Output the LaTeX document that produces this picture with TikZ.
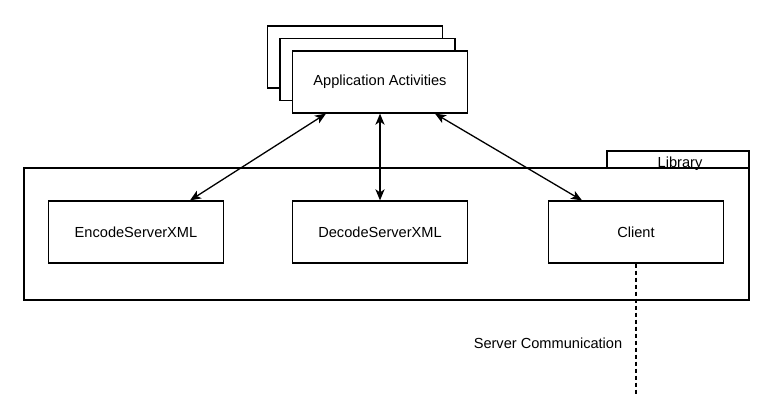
\documentclass[tikz,border=0pt]{standalone}
\usepackage{fontspec}
\setmainfont{Liberation Sans}
\usetikzlibrary{arrows.meta}
\tikzset{
	blockbox/.style={draw, line width=1.2pt, fill=white, minimum width=175pt, minimum height=62pt, inner sep=0pt, font=\fontsize{14.6}{17}\selectfont},
	linkarrow/.style={line width=1.3pt, {Stealth[length=11pt,width=9pt,inset=3pt]}-{Stealth[length=11pt,width=9pt,inset=3pt]}}
}
\begin{document}
\begin{tikzpicture}[x=1pt, y=-1pt]

	\useasboundingbox (0,0) rectangle (776,418);
	\draw[line width=1.2pt] (607,151) rectangle (749,168);
	\node[font=\fontsize{14.6}{17}\selectfont] (libname) at (680,163.5) {Library};
	\draw[line width=1.2pt] (24,168) rectangle (749,300);
	\node[blockbox] (back) at (355,57) {};
	\node[blockbox] (mid) at (367.5,69.5) {};
	\node[blockbox] (app) at (380,82) {Application Activities};
	\node[blockbox] (enc) at (136,232) {EncodeServerXML};
	\node[blockbox] (dec) at (380,232) {DecodeServerXML};
	\node[blockbox] (cli) at (636,232) {Client};
	\draw[linkarrow] ([xshift=-54pt]app.south) -- ([xshift=54pt]enc.north);
	\draw[linkarrow, line width=2pt] (app.south) -- (dec.north);
	\draw[linkarrow] ([xshift=55pt]app.south) -- ([xshift=-54pt]cli.north);
	\coordinate (wire) at (636,395);
	\draw[line width=1.3pt, dash pattern=on 4pt off 3pt] (cli.south) -- (wire);
	\node[font=\fontsize{14.6}{17}\selectfont] (comm) at (548,343) {Server Communication};
\end{tikzpicture}
\end{document}
